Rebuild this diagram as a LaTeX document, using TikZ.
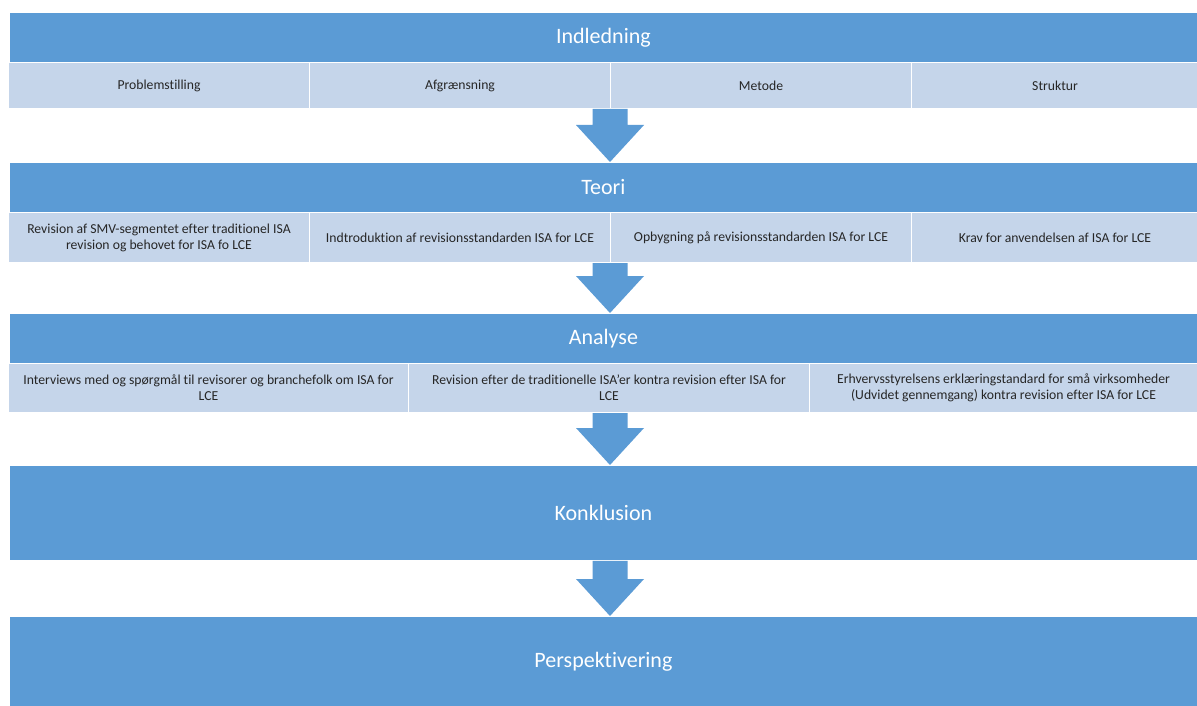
\documentclass[tikz,border=0pt]{standalone}
\usepackage{fontspec}
\setmainfont{Carlito}[Ligatures={NoCommon}]
\usetikzlibrary{calc}
\definecolor{hdr}{HTML}{5B9BD5}
\definecolor{subc}{HTML}{C5D5EA}
\definecolor{txt}{HTML}{262626}
\newcommand\blockarrow[2]{%
  \fill[hdr] let \p1=(#1.south), \p2=(#2.north) in
    (610pt-17.5pt,\y1) -- (610pt+17.5pt,\y1) -- (610pt+17.5pt,\y2+37pt)
    -- (610pt+34pt,\y2+37pt) -- (610pt,\y2) -- (610pt-34pt,\y2+37pt)
    -- (610pt-17.5pt,\y2+37pt) -- cycle;}
\begin{document}
\begin{tikzpicture}[x=1pt,y=-1pt,
  head/.style={fill=hdr, draw=white, line width=0.8pt, text=white,
    font=\fontsize{22}{26}\selectfont, anchor=north west, inner sep=0pt,
    minimum width=1188pt},
  sub/.style={fill=subc, draw=white, line width=1pt, text=txt,
    font=\fontsize{13.7}{16}\selectfont, anchor=north west, inner sep=0pt,
    align=center}]
\fill[white] (0,0) rectangle (1197,706);
\useasboundingbox (0,0) rectangle (1197,706);

% Indledning
\node[head, minimum height=50pt] (h1) at (9,12) {Indledning};
\node[sub, minimum width=301pt, minimum height=46pt] (s11) at (8,62) {Problemstilling};
\node[sub, minimum width=301pt, minimum height=46pt] (s12) at (309,62) {Afgrænsning};
\node[sub, minimum width=301pt, minimum height=46pt] (s13) at (610,62) {Metode};
\node[sub, minimum width=287pt, minimum height=46pt] (s14) at (911,62) {Struktur};

% Teori
\node[head, minimum height=50pt] (h2) at (9,162) {Teori};
\node[sub, minimum width=301pt, minimum height=50pt] (s21) at (8,212) {Revision af SMV-segmentet efter traditionel ISA\\revision og behovet for ISA fo LCE};
\node[sub, minimum width=301pt, minimum height=50pt] (s22) at (309,212) {Indtroduktion af revisionsstandarden ISA for LCE};
\node[sub, minimum width=301pt, minimum height=50pt] (s23) at (610,212) {Opbygning på revisionsstandarden ISA for LCE};
\node[sub, minimum width=287pt, minimum height=50pt] (s24) at (911,212) {Krav for anvendelsen af ISA for LCE};

% Analyse
\node[head, minimum height=50pt] (h3) at (9,313) {Analyse};
\node[sub, minimum width=400pt, minimum height=49pt] (s31) at (8,363) {Interviews med og spørgmål til revisorer og branchefolk om ISA for\\LCE};
\node[sub, minimum width=401pt, minimum height=49pt] (s32) at (408,363) {Revision efter de traditionelle ISA\char"0027er kontra revision efter ISA for\\LCE};
\node[sub, minimum width=388pt, minimum height=49pt] (s33) at (809,363) {Erhvervsstyrelsens erklæringstandard for små virksomheder\\(Udvidet gennemgang) kontra revision efter ISA for LCE};

% Konklusion / Perspektivering
\node[head, minimum height=95pt] (h4) at (9,465) {Konklusion};
\node[head, minimum height=91pt] (h5) at (9,616) {Perspektivering};

% Arrows
\blockarrow{s13}{h2}
\blockarrow{s23}{h3}
\blockarrow{s32}{h4}
\blockarrow{h4}{h5}
\end{tikzpicture}
\end{document}
